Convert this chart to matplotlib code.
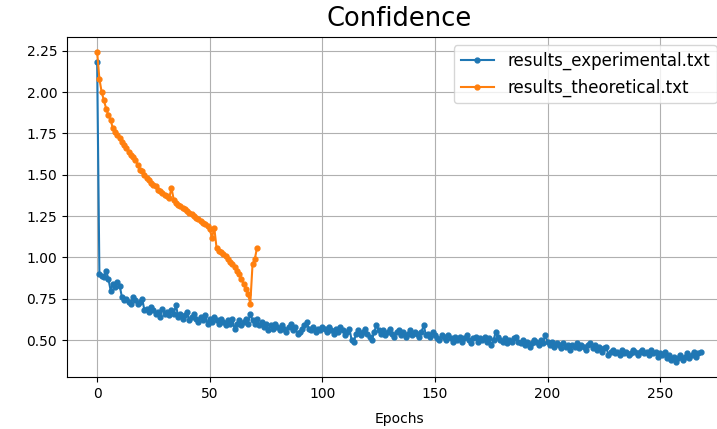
import matplotlib
matplotlib.use('Agg')
import matplotlib.pyplot as plt
import numpy as np

# confidence per epoch
experimental = [
    2.18,
    0.90, 0.89, 0.88, 0.92, 0.87, 0.80, 0.84, 0.82, 0.85, 0.83,
    0.76, 0.74, 0.75, 0.73, 0.72, 0.76, 0.74, 0.72, 0.73, 0.75,
    0.68, 0.69, 0.67, 0.70, 0.68, 0.66, 0.67, 0.64, 0.69, 0.66,
    0.67, 0.65, 0.68, 0.66, 0.71, 0.64, 0.66, 0.63, 0.65, 0.67,
    0.62, 0.64, 0.66, 0.63, 0.61, 0.64, 0.62, 0.65, 0.60, 0.63,
    0.61, 0.64, 0.62, 0.60, 0.63, 0.61, 0.59, 0.62, 0.60, 0.63,
    0.57, 0.60, 0.62, 0.59, 0.61, 0.63, 0.60, 0.66, 0.62, 0.60,
    0.63, 0.59, 0.61, 0.58, 0.60, 0.56, 0.59, 0.57, 0.60, 0.58,
    0.56, 0.59, 0.57, 0.55, 0.58, 0.60, 0.56, 0.58, 0.54, 0.55,
    0.57, 0.59, 0.61, 0.57, 0.56, 0.58, 0.55, 0.57, 0.56, 0.58,
    0.57, 0.55, 0.58, 0.56, 0.54, 0.57, 0.55, 0.58, 0.56, 0.53,
    0.55, 0.57, 0.50, 0.49, 0.54, 0.56, 0.53, 0.55, 0.57, 0.54,
    0.52, 0.50, 0.55, 0.59, 0.56, 0.54, 0.56, 0.53, 0.55, 0.57,
    0.54, 0.52, 0.55, 0.56, 0.53, 0.55, 0.52, 0.54, 0.56, 0.53,
    0.55, 0.54, 0.52, 0.55, 0.59, 0.53, 0.54, 0.52, 0.55, 0.53,
    0.51, 0.50, 0.53, 0.52, 0.50, 0.53, 0.51, 0.49, 0.52, 0.50,
    0.52, 0.49, 0.51, 0.53, 0.50, 0.48, 0.51, 0.52, 0.49, 0.51,
    0.50, 0.52, 0.49, 0.51, 0.47, 0.50, 0.55, 0.52, 0.50, 0.49,
    0.51, 0.48, 0.50, 0.49, 0.51, 0.52, 0.49, 0.48, 0.50, 0.47,
    0.49, 0.46, 0.48, 0.50, 0.49, 0.47, 0.50, 0.48, 0.53, 0.49,
    0.47, 0.49, 0.46, 0.48, 0.47, 0.45, 0.48, 0.46, 0.47, 0.44,
    0.47, 0.46, 0.48, 0.45, 0.47, 0.46, 0.44, 0.47, 0.48, 0.45,
    0.47, 0.44, 0.46, 0.43, 0.45, 0.46, 0.41, 0.43, 0.44, 0.42,
    0.43, 0.41, 0.44, 0.42, 0.43, 0.41, 0.42, 0.44, 0.43, 0.41,
    0.43, 0.44, 0.42, 0.43, 0.41, 0.44, 0.42, 0.43, 0.40, 0.42,
    0.41, 0.43, 0.39, 0.41, 0.38, 0.40, 0.37, 0.39, 0.41, 0.38,
    0.40, 0.42, 0.39, 0.41, 0.43, 0.40, 0.42, 0.43,
]

theoretical = [
    2.24, 2.08, 2.00, 1.95, 1.90, 1.86, 1.83, 1.78, 1.76, 1.74,
    1.72, 1.70, 1.68, 1.66, 1.64, 1.62, 1.61, 1.59, 1.56, 1.53,
    1.52, 1.50, 1.48, 1.47, 1.45, 1.44, 1.43, 1.41, 1.40, 1.39,
    1.38, 1.37, 1.36, 1.42, 1.35, 1.33, 1.32, 1.31, 1.30, 1.29,
    1.28, 1.27, 1.26, 1.25, 1.24, 1.23, 1.22, 1.21, 1.20, 1.19,
    1.17, 1.12, 1.18, 1.06, 1.04, 1.03, 1.02, 1.01, 0.99, 0.97,
    0.96, 0.94, 0.92, 0.90, 0.87, 0.84, 0.81, 0.78, 0.72, 0.96,
    0.99, 1.06,
]

files = ['results_experimental.txt', 'results_theoretical.txt']

# the axes run past the right edge, like the cropped original
fig = plt.figure(figsize=(7.17, 4.29), dpi=100)
ax = fig.add_axes([0.0934, 0.121, 0.926, 0.793])

for name, values in zip(files, [experimental, theoretical]):
    ax.plot(np.arange(len(values)), values, marker='.', markersize=7, label=name)

ax.set_title('Confidence', fontsize=18.5, pad=8)
ax.set_xlabel('Epochs', fontsize=10, labelpad=8)
ax.tick_params(labelsize=10)
ax.legend(loc='upper right', bbox_to_anchor=(0.991, 1.0), fontsize=12)
ax.grid(True)

fig.savefig('out.png', dpi=100)
